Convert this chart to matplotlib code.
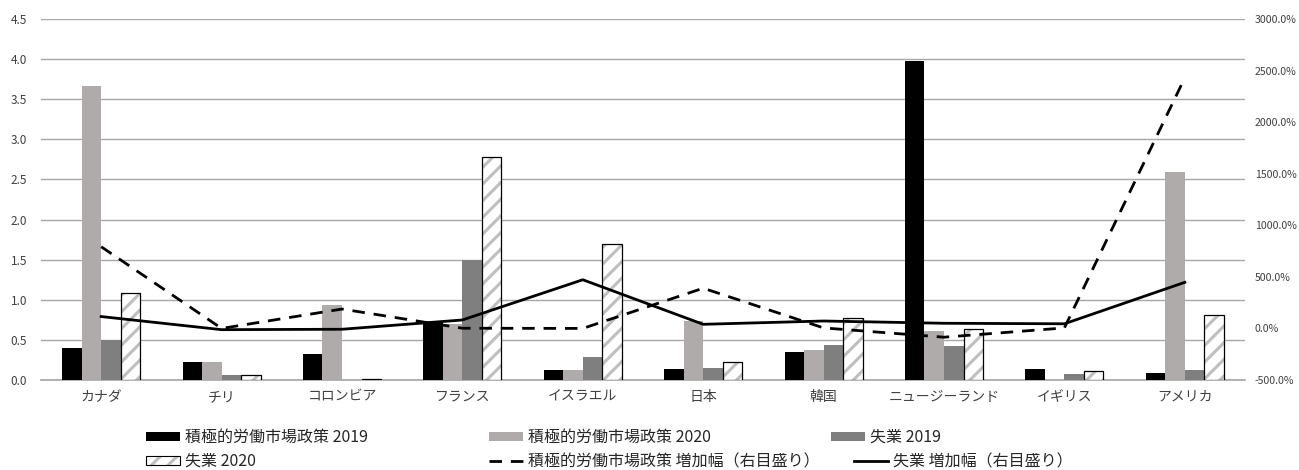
import numpy as np
import matplotlib
matplotlib.use("Agg")
import matplotlib.pyplot as plt
from matplotlib.patches import Patch
from matplotlib.lines import Line2D
from matplotlib.ticker import FuncFormatter, MultipleLocator

plt.rcParams['font.family'] = ['Noto Sans CJK JP', 'DejaVu Sans']
plt.rcParams['hatch.linewidth'] = 2.2

categories = ['カナダ', 'チリ', 'コロンビア', 'フランス', 'イスラエル', '日本', '韓国',
              'ニュージーランド', 'イギリス', 'アメリカ']
almp_2019 = [0.40, 0.22, 0.33, 0.72, 0.125, 0.14, 0.35, 3.98, 0.14, 0.09]
almp_2020 = [3.67, 0.22, 0.93, 0.70, 0.13, 0.74, 0.37, 0.61, np.nan, 2.59]
unemp_2019 = [0.50, 0.06, 0.005, 1.50, 0.29, 0.15, 0.44, 0.43, 0.07, 0.13]
unemp_2020 = [1.09, 0.06, 0.01, 2.78, 1.69, 0.22, 0.77, 0.63, 0.11, 0.81]
almp_growth = [792, 0, 188, 2, 0, 390, 5, -85, 5, 2430]
unemp_growth = [115, -12, -8, 82, 472, 40, 72, 50, 45, 447]

labels = ['積極的労働市場政策 2019', '積極的労働市場政策 2020', '失業 2019', '失業 2020',
          '積極的労働市場政策 増加幅（右目盛り）', '失業 増加幅（右目盛り）']

W, H = 1299, 470
fig = plt.figure(figsize=(W / 100, H / 100), dpi=100)
ax = fig.add_axes([41 / W, 1 - 380 / H, (1245 - 41) / W, (380 - 19) / H])
ax2 = ax.twinx()

x = np.arange(len(categories))
bw = 0.162
grid_c = '#A6A6A6'
c_black = '#000000'
c_light = '#AFABAB'
c_dark = '#7F7F7F'

ax.bar(x - 1.5 * bw, almp_2019, bw, color=c_black, zorder=3)
ax.bar(x - 0.5 * bw, almp_2020, bw, color=c_light, zorder=3)
ax.bar(x + 0.5 * bw, unemp_2019, bw, color=c_dark, zorder=3)
ax.bar(x + 1.5 * bw, unemp_2020, bw, color='white', edgecolor='#BFBFBF', hatch='//',
       linewidth=0, zorder=3)
ax.bar(x + 1.5 * bw, unemp_2020, bw, fill=False, edgecolor='#000000', linewidth=0.9, zorder=4)

ax.set_ylim(0, 4.5)
ax.set_xlim(-0.5, len(categories) - 0.5)
ax.yaxis.set_major_locator(MultipleLocator(0.5))
ax.yaxis.set_major_formatter(FuncFormatter(lambda v, p: f'{v:.1f}'))
ax.grid(axis='y', color=grid_c, linewidth=1.0, zorder=0)
ax.set_axisbelow(True)
for s in ['top', 'left', 'right']:
    ax.spines[s].set_visible(False)
ax.spines['bottom'].set_color(grid_c)
ax.spines['bottom'].set_linewidth(1.2)
ax.tick_params(axis='y', length=0, pad=10, labelsize=8.5, labelcolor='#404040')
ax.tick_params(axis='x', length=0, pad=7, labelsize=10, labelcolor='#404040')
ax.set_xticks(x)
ax.set_xticklabels(categories)

ax2.plot(x, almp_growth, color='black', linewidth=2.0, linestyle=(0, (4.5, 3.2)), zorder=5)
ax2.plot(x, unemp_growth, color='black', linewidth=2.0, zorder=5)
ax2.set_ylim(-500, 3000)
ax2.yaxis.set_major_locator(MultipleLocator(500))
ax2.yaxis.set_major_formatter(FuncFormatter(lambda v, p: f'{v:.1f}%'))
ax2.tick_params(axis='y', length=0, pad=7, labelsize=7.6, labelcolor='#404040')
for s in ['top', 'left', 'right', 'bottom']:
    ax2.spines[s].set_visible(False)

# legend handles
h1 = Patch(facecolor=c_black)
h2 = Patch(facecolor=c_light)
h3 = Patch(facecolor=c_dark)
h4 = (Patch(facecolor='white', edgecolor='#BFBFBF', hatch='//', linewidth=0),
      Patch(fill=False, edgecolor='black', linewidth=0.8))
h5 = Line2D([], [], color='black', linewidth=2.0, linestyle=(0, (4.5, 3.2)))
h6 = Line2D([], [], color='black', linewidth=2.0)
handles = [h1, h2, h3, h4, h5, h6]
positions = [(146, 437.5), (489, 437.5), (831, 437.5),
             (146, 461.5), (489, 461.5), (854, 461.5)]
for h, lab, (px, py) in zip(handles, labels, positions):
    leg = fig.legend(handles=[h], labels=[lab], loc='center left',
                     bbox_to_anchor=(px / W, 1 - py / H), frameon=False,
                     borderpad=0, borderaxespad=0, handlelength=2.15,
                     handleheight=0.5, handletextpad=0.3, fontsize=11.5)
    for t in leg.get_texts():
        t.set_color('#262626')

fig.savefig('out.png', dpi=100)
